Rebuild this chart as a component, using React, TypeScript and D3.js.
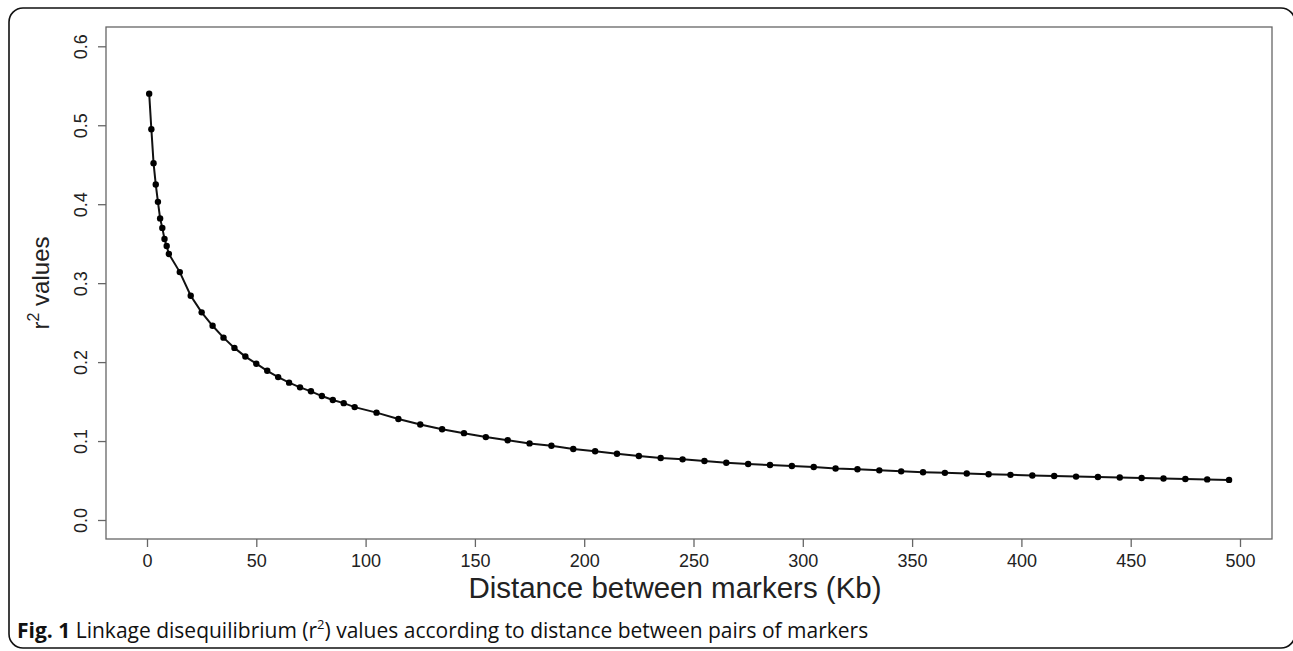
import React, { useEffect, useRef } from "react";
import * as d3 from "d3";

// distance between markers (Kb)
const distances = [
  1, 2, 3, 4, 5, 6, 7, 8, 9, 10,
  15, 20, 25, 30, 35, 40, 45, 50, 55, 60, 65, 70, 75, 80, 85, 90, 95,
  105, 115, 125, 135, 145, 155, 165, 175, 185, 195,
  205, 215, 225, 235, 245, 255, 265, 275, 285,
  295, 305, 315, 325, 335, 345, 355, 365, 375, 385,
  395, 405, 415, 425, 435, 445, 455, 465, 475, 485, 495,
];

// r^2 values
const r2Values = [
  0.54, 0.495, 0.452, 0.425, 0.403, 0.382, 0.37, 0.356, 0.347, 0.337,
  0.314, 0.284, 0.263, 0.246, 0.231, 0.218, 0.207, 0.198, 0.189, 0.181, 0.174, 0.168, 0.163, 0.157, 0.152, 0.148, 0.143,
  0.136, 0.128, 0.121, 0.115, 0.11, 0.105, 0.101, 0.097, 0.094, 0.09,
  0.087, 0.084, 0.081, 0.0785, 0.0768, 0.0747, 0.0726, 0.0709, 0.0696,
  0.0684, 0.0671, 0.0652, 0.0642, 0.0629, 0.0616, 0.0604, 0.0597, 0.0589, 0.058,
  0.0572, 0.0564, 0.0557, 0.055, 0.0544, 0.0538, 0.0532, 0.0526, 0.052, 0.0514, 0.0508,
];

const xTicks = [0, 50, 100, 150, 200, 250, 300, 350, 400, 450, 500];
const yTicks = [0.0, 0.1, 0.2, 0.3, 0.4, 0.5, 0.6];

export default function App() {
  const ref = useRef<SVGSVGElement | null>(null);
  const width = 1293;
  const height = 651;

  useEffect(() => {
    const svg = d3.select(ref.current);
    svg.selectAll("*").remove();

    const box = { left: 106, right: 1272, top: 27, bottom: 539 };
    const font = "'Liberation Sans', Arial, sans-serif";
    const axisColor = "#666";
    const textColor = "#222";

    const x = d3.scaleLinear().domain([0, 500]).range([147, 1240]);
    const y = d3.scaleLinear().domain([0, 0.6]).range([520, 46.3]);

    const data = distances.map((d, i) => ({ d, r: r2Values[i] }));

    // outer figure frame
    svg
      .append("rect")
      .attr("x", 9)
      .attr("y", 8)
      .attr("width", 1286)
      .attr("height", 640)
      .attr("rx", 14)
      .attr("fill", "none")
      .attr("stroke", "#111")
      .attr("stroke-width", 1.6);

    // plot box
    svg
      .append("rect")
      .attr("x", box.left)
      .attr("y", box.top)
      .attr("width", box.right - box.left)
      .attr("height", box.bottom - box.top)
      .attr("fill", "none")
      .attr("stroke", axisColor)
      .attr("stroke-width", 1.3);

    // x axis (R style: ticks below box)
    const xAxis = svg
      .append("g")
      .attr("transform", `translate(0,${box.bottom})`)
      .call(d3.axisBottom(x).tickValues(xTicks).tickSize(8).tickPadding(7).tickFormat(d3.format("d")));
    xAxis.select(".domain").remove();
    xAxis.selectAll("line").attr("stroke", axisColor).attr("stroke-width", 1.3);
    xAxis
      .selectAll("text")
      .attr("fill", textColor)
      .attr("font-family", font)
      .attr("font-size", "18px");

    // y axis
    const yAxis = svg
      .append("g")
      .attr("transform", `translate(${box.left},0)`)
      .call(d3.axisLeft(y).tickValues(yTicks).tickSize(8).tickFormat(d3.format(".1f")));
    yAxis.select(".domain").remove();
    yAxis.selectAll("line").attr("stroke", axisColor).attr("stroke-width", 1.3);
    yAxis
      .selectAll("text")
      .attr("fill", textColor)
      .attr("font-family", font)
      .attr("font-size", "18px")
      .attr("x", null)
      .attr("dy", null)
      .attr("text-anchor", "middle")
      .attr("transform", "translate(-19,0) rotate(-90)");

    // line
    const line = d3
      .line<{ d: number; r: number }>()
      .x((p) => x(p.d))
      .y((p) => y(p.r));

    svg
      .append("path")
      .datum(data)
      .attr("d", line)
      .attr("fill", "none")
      .attr("stroke", "#111")
      .attr("stroke-width", 2);

    svg
      .selectAll(".pt")
      .data(data)
      .join("circle")
      .attr("class", "pt")
      .attr("cx", (p) => x(p.d))
      .attr("cy", (p) => y(p.r))
      .attr("r", 3.2)
      .attr("fill", "#000");

    // axis titles
    svg
      .append("text")
      .attr("x", 675)
      .attr("y", 598)
      .attr("text-anchor", "middle")
      .attr("fill", textColor)
      .attr("font-family", font)
      .attr("font-size", "29.5px")
      .text("Distance between markers (Kb)");

    const yl = svg
      .append("text")
      .attr("transform", `translate(49,${283}) rotate(-90)`)
      .attr("text-anchor", "middle")
      .attr("fill", textColor)
      .attr("font-family", font)
      .attr("font-size", "24px");
    yl.append("tspan").text("r");
    yl.append("tspan").attr("font-size", "16px").attr("dy", -10).text("2");
    yl.append("tspan").attr("dy", 10).text(" values");

    // caption
    const cap = svg
      .append("text")
      .attr("x", 17)
      .attr("y", 638)
      .attr("fill", "#111")
      .attr("font-family", "'Open Sans', 'Noto Sans', sans-serif")
      .attr("font-size", "21px");
    cap.append("tspan").attr("font-weight", "700").text("Fig. 1");
    cap.append("tspan").text(" Linkage disequilibrium (r");
    cap.append("tspan").attr("font-size", "13px").attr("dy", -9).text("2");
    cap.append("tspan").attr("dy", 9).text(") values according to distance between pairs of markers");
  }, []);

  return (
    <svg
      ref={ref}
      width={width}
      height={height}
      style={{ position: "absolute", left: 0, top: 0, background: "#fff" }}
    />
  );
}
